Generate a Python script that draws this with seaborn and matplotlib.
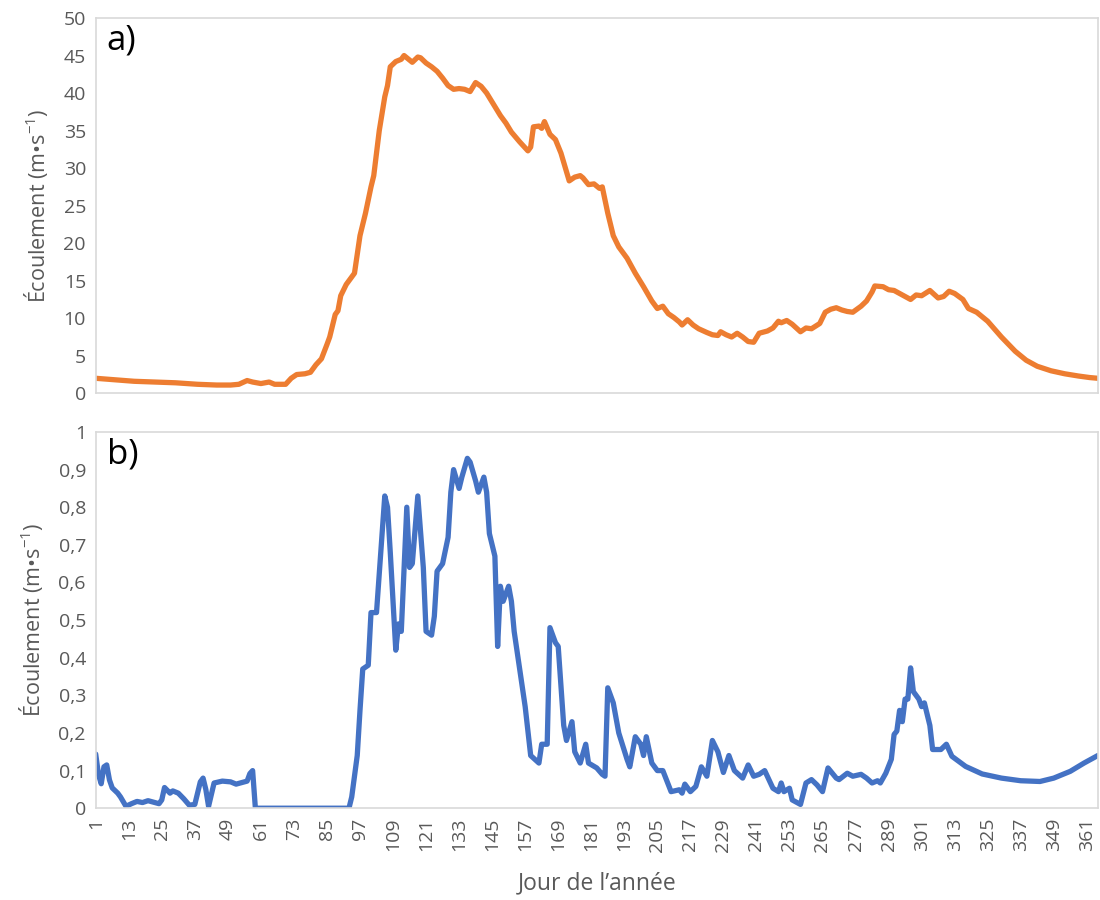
import matplotlib
matplotlib.use("Agg")
import matplotlib.pyplot as plt
import seaborn as sns
from matplotlib.ticker import FuncFormatter

# --- Data (day of year, flow) ---
days_a = [1, 8, 15, 22, 30, 38, 45, 50, 53, 56, 58, 61, 64, 66, 70, 72, 74, 77, 79, 81,
          83, 85, 86, 88, 89, 90, 92, 94, 95, 97, 99, 101, 102, 104, 106, 107, 108, 110, 112, 113,
          115, 116, 118, 119, 121, 123, 125, 127, 129, 131, 133, 135, 137, 139, 141, 143, 145, 148, 150, 152,
          155, 158, 159, 160, 162, 163, 164, 166, 168, 170, 172, 173, 175, 177, 178, 180, 182, 184, 185, 187,
          189, 191, 194, 197, 200, 203, 205, 207, 209, 211, 213, 214, 216, 218, 220, 223, 225, 227, 228, 230,
          232, 234, 236, 238, 240, 242, 245, 247, 249, 250, 252, 254, 257, 259, 261, 264, 266, 268, 270, 272,
          274, 276, 279, 281, 283, 284, 287, 289, 291, 294, 297, 299, 301, 304, 307, 309, 311, 313, 316, 318,
          321, 325, 330, 335, 339, 343, 348, 353, 358, 362, 365]
flow_a = [2.0, 1.8, 1.6, 1.5, 1.4, 1.2, 1.1, 1.1, 1.2, 1.7, 1.5, 1.3, 1.5, 1.2, 1.2, 2.0, 2.5, 2.6, 2.8, 3.8,
          4.6, 6.5, 7.5, 10.5, 11.0, 13.0, 14.5, 15.5, 16.0, 21.0, 24.0, 27.5, 29.0, 35.0, 39.5, 41.0, 43.5, 44.2, 44.5, 45.0,
          44.4, 44.1, 44.8, 44.7, 44.0, 43.5, 42.9, 42.0, 41.0, 40.5, 40.6, 40.5, 40.2, 41.4, 40.9, 40.0, 38.8, 37.0, 36.0, 34.8,
          33.5, 32.3, 32.8, 35.5, 35.6, 35.3, 36.2, 34.5, 33.8, 32.0, 29.5, 28.3, 28.8, 29.0, 28.7, 27.8, 27.9, 27.3, 27.5, 24.0,
          21.0, 19.5, 18.0, 16.0, 14.2, 12.3, 11.3, 11.6, 10.6, 10.1, 9.5, 9.1, 9.8, 9.1, 8.6, 8.1, 7.8, 7.7, 8.2, 7.8,
          7.5, 8.0, 7.5, 6.9, 6.8, 8.0, 8.3, 8.7, 9.6, 9.4, 9.7, 9.2, 8.2, 8.7, 8.6, 9.3, 10.8, 11.2, 11.4, 11.1,
          10.9, 10.8, 11.6, 12.3, 13.5, 14.3, 14.2, 13.8, 13.7, 13.1, 12.5, 13.1, 13.0, 13.7, 12.7, 12.9, 13.6, 13.3, 12.5, 11.3,
          10.8, 9.6, 7.5, 5.6, 4.4, 3.6, 3.0, 2.6, 2.3, 2.1, 2.0]

days_b = [1, 2, 3, 4, 5, 6, 7, 9, 10, 12, 14, 16, 18, 20, 22, 24, 25, 26, 28, 29,
          31, 33, 35, 37, 39, 40, 41, 42, 44, 47, 50, 52, 54, 56, 57, 58, 59, 93, 94, 96,
          97, 98, 100, 101, 103, 106, 107, 108, 110, 111, 112, 114, 115, 116, 118, 120, 121, 123, 124, 125,
          127, 129, 130, 131, 133, 134, 136, 137, 139, 140, 142, 143, 144, 146, 147, 148, 149, 151, 152, 153,
          157, 159, 162, 163, 165, 166, 168, 169, 171, 172, 174, 175, 177, 179, 180, 183, 185, 186, 187, 189,
          191, 194, 195, 197, 199, 200, 201, 203, 205, 207, 210, 213, 214, 215, 217, 219, 221, 223, 225, 227,
          229, 231, 233, 236, 238, 240, 242, 244, 247, 249, 250, 251, 253, 254, 257, 259, 261, 263, 265, 267,
          270, 271, 274, 276, 279, 281, 283, 285, 286, 288, 290, 291, 292, 293, 294, 295, 296, 297, 298, 300,
          301, 302, 304, 305, 308, 310, 312, 317, 323, 330, 337, 344, 349, 355, 360, 365]
flow_b = [0.144, 0.09, 0.065, 0.11, 0.115, 0.075, 0.054, 0.04, 0.03, 0.005, 0.012, 0.018, 0.015, 0.02, 0.016, 0.012, 0.022, 0.055, 0.04, 0.046,
          0.04, 0.025, 0.008, 0.01, 0.07, 0.08, 0.05, 0.005, 0.067, 0.072, 0.07, 0.064, 0.068, 0.072, 0.092, 0.1, 0.0, 0.0, 0.03, 0.14,
          0.26, 0.37, 0.38, 0.52, 0.52, 0.83, 0.8, 0.68, 0.42, 0.49, 0.47, 0.8, 0.64, 0.65, 0.83, 0.64, 0.47, 0.46, 0.51, 0.63,
          0.65, 0.72, 0.84, 0.9, 0.85, 0.88, 0.93, 0.92, 0.87, 0.84, 0.88, 0.84, 0.73, 0.67, 0.43, 0.59, 0.55, 0.59, 0.55, 0.47,
          0.27, 0.14, 0.12, 0.17, 0.17, 0.48, 0.44, 0.43, 0.22, 0.18, 0.23, 0.15, 0.12, 0.17, 0.12, 0.107, 0.09, 0.085, 0.32, 0.28,
          0.2, 0.13, 0.11, 0.19, 0.17, 0.14, 0.19, 0.12, 0.1, 0.1, 0.044, 0.049, 0.04, 0.064, 0.044, 0.058, 0.11, 0.085, 0.18, 0.15,
          0.095, 0.14, 0.1, 0.08, 0.115, 0.085, 0.09, 0.1, 0.053, 0.044, 0.067, 0.044, 0.053, 0.022, 0.01, 0.067, 0.076, 0.062, 0.044, 0.107,
          0.08, 0.076, 0.093, 0.085, 0.09, 0.08, 0.067, 0.073, 0.067, 0.093, 0.13, 0.196, 0.205, 0.26, 0.23, 0.29, 0.29, 0.373, 0.31, 0.29,
          0.27, 0.28, 0.22, 0.156, 0.156, 0.17, 0.138, 0.111, 0.091, 0.08, 0.073, 0.071, 0.08, 0.098, 0.12, 0.14]

xticks = list(range(1, 366, 12))
yticks_a = list(range(0, 51, 5))
yticks_b = [i / 10 for i in range(11)]

# --- Style ---
sns.set_theme(style="white")
plt.rcParams['font.family'] = ['Open Sans', 'DejaVu Sans']
plt.rcParams['mathtext.fontset'] = 'custom'
plt.rcParams['mathtext.rm'] = 'Open Sans'
plt.rcParams['mathtext.it'] = 'Open Sans'

grey = '#595959'
spine_grey = '#d9d9d9'
ylabel = "Écoulement (m•s$^{-1}$)"

fig = plt.figure(figsize=(11, 9), dpi=100)
ax1 = fig.add_axes([0.087, 0.563, 0.911, 0.417])
ax2 = fig.add_axes([0.087, 0.102, 0.911, 0.418])

sns.lineplot(x=days_a, y=flow_a, ax=ax1, color='#ED7D31', linewidth=3.8)
sns.lineplot(x=days_b, y=flow_b, ax=ax2, color='#4472C4', linewidth=3.8)

for ax in (ax1, ax2):
    ax.set_xlim(1, 365)
    ax.set_xticks(xticks)
    for s in ax.spines.values():
        s.set_color(spine_grey)
        s.set_linewidth(1.2)
    ax.tick_params(axis='both', length=0, labelsize=14, labelcolor=grey, pad=7)
    ax.set_ylabel(ylabel, fontsize=15.5, color=grey, labelpad=10)

ax1.set_ylim(0, 50)
ax1.set_yticks(yticks_a)
ax1.set_xticklabels([])

ax2.set_ylim(0, 1)
ax2.set_yticks(yticks_b)
ax2.yaxis.set_major_formatter(FuncFormatter(lambda v, p: f"{v:g}".replace('.', ',')))
ax2.set_xticklabels([str(t) for t in xticks], rotation=90)
ax2.set_xlabel("Jour de l\u2019année", fontsize=16.5, color=grey, labelpad=14)

ax1.text(0.011, 0.985, "a)", transform=ax1.transAxes, fontsize=25, va='top', ha='left', color='black')
ax2.text(0.011, 0.985, "b)", transform=ax2.transAxes, fontsize=25, va='top', ha='left', color='black')

fig.savefig("out.png", dpi=100)
